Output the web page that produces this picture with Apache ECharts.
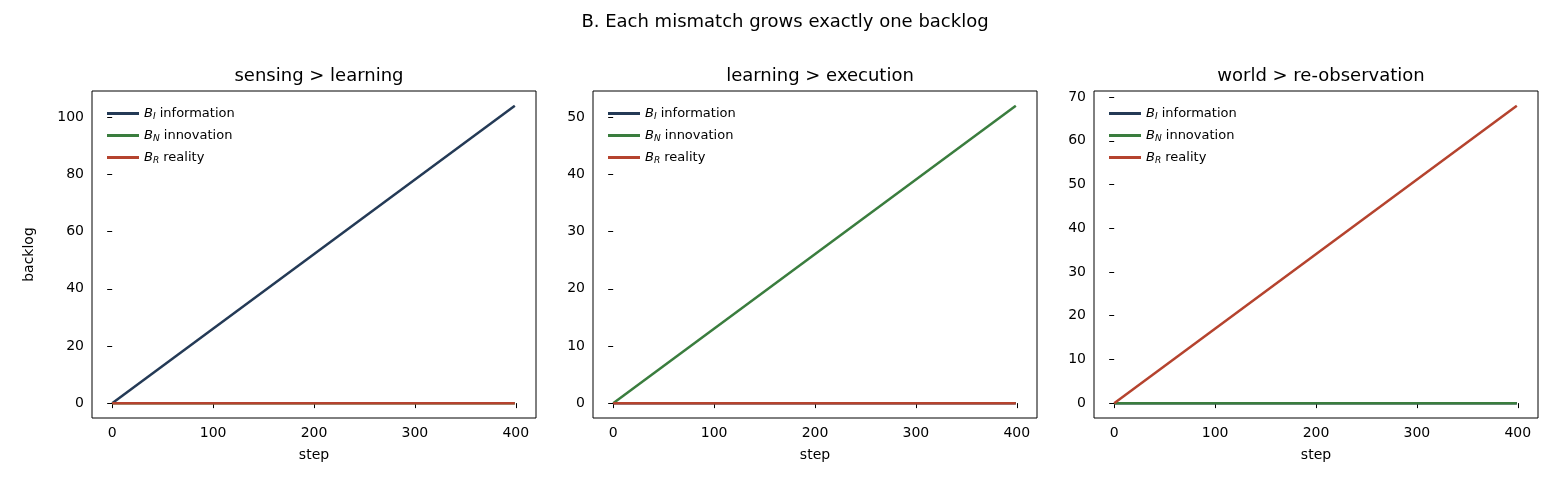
<!DOCTYPE html>
<html>
<head>
<meta charset="utf-8">
<script src="https://cdn.jsdelivr.net/npm/echarts@6/dist/echarts.min.js"></script>
<style>html,body{margin:0;padding:0;background:#fff}#chart{width:1560px;height:494px}</style>
</head>
<body>
<div id="chart"></div>
<script>
// 每个面板：标题、三条积压曲线的端点（step 0 和 399）
const steps = [0, 399];
const panelTitles = ['sensing > learning', 'learning > execution', 'world > re-observation'];
const infoEnd = [104, 0, 0];
const innovEnd = [0, 52, 0];
const realityEnd = [0, 0, 68];
const yRanges = [[-5.2, 109.2, 20], [-2.6, 54.6, 10], [-3.4, 71.4, 10]];
const yTicks = [[0, 20, 40, 60, 80, 100], [0, 10, 20, 30, 40, 50], [0, 10, 20, 30, 40, 50, 60, 70]];
const xTicks = [0, 100, 200, 300, 400];

const seriesNames = ['information', 'innovation', 'reality'];
const subs = ['I', 'N', 'R'];
const colors = ['#243a56', '#3a7d3e', '#b5432e'];

const font = 'DejaVu Sans';
const lefts = [92, 593, 1094];
const W = 444;

let grids = [], xAxes = [], yAxes = [], series = [], titles = [], legends = [];
for (let p = 0; p < 3; p++) {
    grids.push({left: lefts[p], top: 91, width: W, height: 327, show: true, borderColor: '#000', borderWidth: 1});
    titles.push({text: panelTitles[p], left: lefts[p] + W / 2, top: 62, textAlign: 'center',
        textStyle: {fontFamily: font, fontSize: 18, fontWeight: 'normal', color: '#000'}});
    xAxes.push({gridIndex: p, type: 'value', min: -20, max: 420, name: 'step', nameLocation: 'middle', nameGap: 30,
        nameTextStyle: {fontFamily: font, fontSize: 14, color: '#000'},
        axisLine: {show: false}, splitLine: {show: false},
        axisTick: {show: true, customValues: xTicks, length: 5, lineStyle: {color: '#000'}},
        axisLabel: {customValues: xTicks, fontFamily: font, fontSize: 14, color: '#000', margin: 8}});
    const yr = yRanges[p];
    yAxes.push({gridIndex: p, type: 'value', min: yr[0], max: yr[1],
        name: p === 0 ? 'backlog' : '', nameLocation: 'middle', nameGap: 56,
        nameTextStyle: {fontFamily: font, fontSize: 14, color: '#000'},
        axisLine: {show: false}, splitLine: {show: false},
        axisTick: {show: true, customValues: yTicks[p], length: 5, lineStyle: {color: '#000'}},
        axisLabel: {customValues: yTicks[p], fontFamily: font, fontSize: 14, color: '#000', margin: 8}});
    const ends = [infoEnd[p], innovEnd[p], realityEnd[p]];
    for (let s = 0; s < 3; s++) {
        series.push({type: 'line', name: seriesNames[s], xAxisIndex: p, yAxisIndex: p,
            data: steps.map((x, i) => [x, i === 0 ? 0 : ends[s]]),
            showSymbol: false, silent: true, z: 2 + s,
            lineStyle: {color: colors[s], width: 2.5}, itemStyle: {color: colors[s]}});
    }
    legends.push({left: lefts[p] + 10, top: 102, orient: 'vertical', itemGap: 8,
        icon: 'rect', itemWidth: 32, itemHeight: 3,
        data: seriesNames.map((n, s) => ({name: n, itemStyle: {color: colors[s]}})),
        selectedMode: false,
        formatter: n => { const s = seriesNames.indexOf(n); return '{b|B}{s|' + subs[s] + '} ' + n; },
        textStyle: {fontFamily: font, fontSize: 13, color: '#000',
            rich: {b: {fontStyle: 'italic', fontSize: 13, fontFamily: font},
                   s: {fontStyle: 'italic', fontSize: 9, fontFamily: font, verticalAlign: 'bottom', padding: [6, 0, 0, 0]}}}});
}
titles.push({text: 'B. Each mismatch grows exactly one backlog', left: 780, top: 8, textAlign: 'center',
    textStyle: {fontFamily: font, fontSize: 18, fontWeight: 'normal', color: '#000'}});

const chart = echarts.init(document.getElementById('chart'));
chart.setOption({animation: false, title: titles, legend: legends, grid: grids, xAxis: xAxes, yAxis: yAxes, series: series});
</script>
</body>
</html>
